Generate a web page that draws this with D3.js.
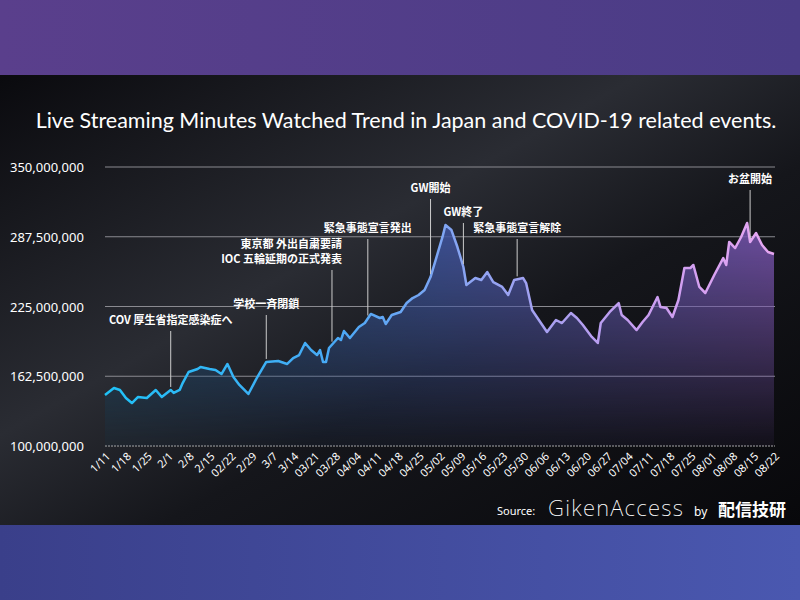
<!DOCTYPE html>
<html><head><meta charset="utf-8">
<script src="https://cdn.jsdelivr.net/npm/d3@7"></script>
<style>body{margin:0;background:#000}svg{display:block}</style>
</head><body>
<script>
const days = [0,3,5,7,9,11,14,17,19,22,23,25,26,28,31,32,35,37,39,41,43,45,48,51,54,58,61,63,65,67,69,71,72,73,74,75,78,79,80,82,85,87,89,92,93,94,96,99,101,103,105,107,109,111,113,114,116,118,120,121,124,126,128,130,133,135,137,140,141,143,148,151,153,156,158,160,163,165,166,169,172,173,175,178,180,182,185,186,188,190,192,194,196,197,199,201,204,207,208,209,211,213,215,216,218,220,222,224];
const values = [145.7,152.0,150.2,143.0,138.5,143.9,143.0,150.2,143.9,150.2,147.5,150.2,156.4,166.3,169.0,170.8,169.0,168.1,164.5,173.5,161.8,154.7,146.6,161.8,175.3,176.2,173.5,178.8,181.5,192.3,186.0,181.5,186.0,175.3,175.3,187.8,196.8,195.0,203.0,196.8,206.6,210.2,218.3,214.7,215.6,209.3,217.4,220.1,228.1,232.6,235.3,239.8,251.4,269.3,287.3,298.0,293.5,278.3,260.4,244.3,250.5,248.7,255.9,246.9,242.5,235.3,248.7,250.5,246.0,221.9,202.1,212.9,210.2,219.2,214.7,208.4,197.7,192.3,210.2,220.1,228.1,217.4,212.9,203.9,211.1,217.4,233.5,224.5,223.6,215.6,230.8,259.5,259.5,262.2,242.5,237.1,253.2,268.4,262.2,282.8,277.4,287.3,299.8,282.8,290.8,280.1,273.8,272.0].map(v=>v*1e6);
const xLabels = ["1/11","1/18","1/25","2/1","2/8","2/15","02/22","2/29","3/7","3/14","03/21","03/28","04/04","04/11","04/18","04/25","05/02","05/09","05/16","05/23","05/30","06/06","06/13","06/20","06/27","07/04","07/11","07/18","07/25","08/01","08/08","08/15","08/22"];
const yTicks = [100000000,162500000,225000000,287500000,350000000];
const events = [
  {day:22, lines:["COV 厚生省指定感染症へ"]},
  {day:54, lines:["学校一斉閉鎖"]},
  {day:76, lines:["東京都 外出自粛要請","IOC 五輪延期の正式発表"], anchor:"end"},
  {day:88, lines:["緊急事態宣言発出"]},
  {day:109, lines:["GW開始"]},
  {day:120, lines:["GW終了"]},
  {day:138, lines:["緊急事態宣言解除"]},
  {day:216, lines:["お盆開始"]}
];
const labelY = [323,307,262,231,191,215,231,182];

const W=800,H=600;
const svg=d3.select("body").append("svg").attr("width",W).attr("height",H);
const defs=svg.append("defs");
const bgT=defs.append("linearGradient").attr("id","bgT").attr("x1",0).attr("x2",1);
bgT.append("stop").attr("offset",0).attr("stop-color","#5a3f8c");
bgT.append("stop").attr("offset",1).attr("stop-color","#4a3c86");
const bgB=defs.append("linearGradient").attr("id","bgB").attr("x1",0).attr("x2",1);
bgB.append("stop").attr("offset",0).attr("stop-color","#3a3f8a");
bgB.append("stop").attr("offset",1).attr("stop-color","#4a58b0");
const bgM=defs.append("linearGradient").attr("id","bgM").attr("x1",0).attr("y1",0).attr("x2",1).attr("y2",1);
bgM.append("stop").attr("offset",0).attr("stop-color","#0a0a0e");
bgM.append("stop").attr("offset",0.4).attr("stop-color","#2a2c33");
bgM.append("stop").attr("offset",0.6).attr("stop-color","#15161b");
bgM.append("stop").attr("offset",1).attr("stop-color","#08080b");
svg.append("rect").attr("width",W).attr("height",75).attr("fill","url(#bgT)");
svg.append("rect").attr("y",75).attr("width",W).attr("height",450).attr("fill","url(#bgM)");
svg.append("rect").attr("y",525).attr("width",W).attr("height",75).attr("fill","url(#bgB)");

const x=d3.scaleLinear().domain([0,224]).range([105,774]);
const y=d3.scaleLinear().domain([100e6,350e6]).range([446,167]);

svg.append("text").attr("x",406).attr("y",128).attr("text-anchor","middle").attr("fill","#fff")
  .attr("font-family","Lato, 'Noto Sans'").attr("font-size",21.5).text("Live Streaming Minutes Watched Trend in Japan and COVID-19 related events.");

yTicks.forEach((t,i)=>{
  svg.append("line").attr("x1",105).attr("x2",775).attr("y1",y(t)).attr("y2",y(t))
    .attr("stroke",i===0?"#aaa":"#8a8a90").attr("stroke-width",1.2).attr("stroke-dasharray",i===0?"2,1":null);
  svg.append("text").attr("x",10).attr("y",y(t)+5).attr("fill","#fff").attr("font-family","'Noto Sans'").attr("font-size",13).text(d3.format(",")(t));
});

const lg=defs.append("linearGradient").attr("id","lg").attr("gradientUnits","userSpaceOnUse").attr("x1",105).attr("x2",774).attr("y1",0).attr("y2",0);
[[0,"#1fc2f7"],[0.35,"#4aa8f5"],[0.55,"#8ea4f2"],[0.8,"#c79cf0"],[1,"#e7a7f2"]].forEach(s=>lg.append("stop").attr("offset",s[0]).attr("stop-color",s[1]));
const ag=defs.append("linearGradient").attr("id","ag").attr("gradientUnits","userSpaceOnUse").attr("x1",105).attr("x2",774).attr("y1",0).attr("y2",0);
[[0,"#0c4a70"],[0.5,"#3f55a0"],[1,"#7a55b0"]].forEach(s=>ag.append("stop").attr("offset",s[0]).attr("stop-color",s[1]));
const am=defs.append("linearGradient").attr("id","am").attr("x1",0).attr("x2",0).attr("y1",0).attr("y2",1);
am.append("stop").attr("offset",0).attr("stop-color","#fff").attr("stop-opacity",0.9);
am.append("stop").attr("offset",1).attr("stop-color","#fff").attr("stop-opacity",0.05);
defs.append("mask").attr("id","amask").append("rect").attr("x",0).attr("y",220).attr("width",W).attr("height",230).attr("fill","url(#am)");

const pts=days.map((d,i)=>[d,values[i]]);
svg.append("path").datum(pts).attr("d",d3.area().x(d=>x(d[0])).y0(y(100e6)).y1(d=>y(d[1])))
  .attr("fill","url(#ag)").attr("mask","url(#amask)");
svg.append("path").datum(pts).attr("d",d3.line().x(d=>x(d[0])).y(d=>y(d[1])))
  .attr("fill","none").attr("stroke","url(#lg)").attr("stroke-width",2.5).attr("stroke-linejoin","round");

const interp=d=>{ for(let i=1;i<days.length;i++){ if(days[i]>=d){const t=(d-days[i-1])/(days[i]-days[i-1]);return values[i-1]+t*(values[i]-values[i-1]);} } return values[values.length-1]; };
events.forEach((e,i)=>{
  const ex=x(e.day), ly=labelY[i];
  svg.append("line").attr("x1",ex).attr("x2",ex).attr("y1",ly+8).attr("y2",y(interp(e.day))-3).attr("stroke","#ccc").attr("stroke-width",1);
  e.lines.forEach((l,j)=>{
    svg.append("text").attr("x",e.anchor==="end"?ex+10:ex).attr("y",ly-(e.lines.length-1-j)*15+1)
      .attr("text-anchor",e.anchor||"middle").attr("fill","#fff").attr("font-family","'Noto Sans CJK JP'").attr("font-weight","bold").attr("font-size",11).text(l);
  });
});

xLabels.forEach((l,i)=>{
  const px=x(i*7);
  svg.append("text").attr("transform",`translate(${px+6},${457}) rotate(-45)`).attr("text-anchor","end")
    .attr("fill","#fff").attr("font-family","'Noto Sans'").attr("font-size",11).text(l);
});

svg.append("text").attr("x",497).attr("y",515).attr("fill","#fff").attr("font-family","'Noto Sans'").attr("font-size",11).text("Source:");
svg.append("text").attr("x",548).attr("y",516).attr("fill","#fff").attr("font-family","'DejaVu Sans ExtraLight','Noto Sans'").attr("font-weight",200).attr("font-size",22).attr("textLength",135).text("GikenAccess");
svg.append("text").attr("x",694).attr("y",516).attr("fill","#fff").attr("font-family","'Noto Sans'").attr("font-size",12).text("by");
svg.append("text").attr("x",718).attr("y",516).attr("fill","#fff").attr("font-family","'Noto Sans CJK JP'").attr("font-weight","bold").attr("font-size",17).text("配信技研");
</script>
</body></html>
